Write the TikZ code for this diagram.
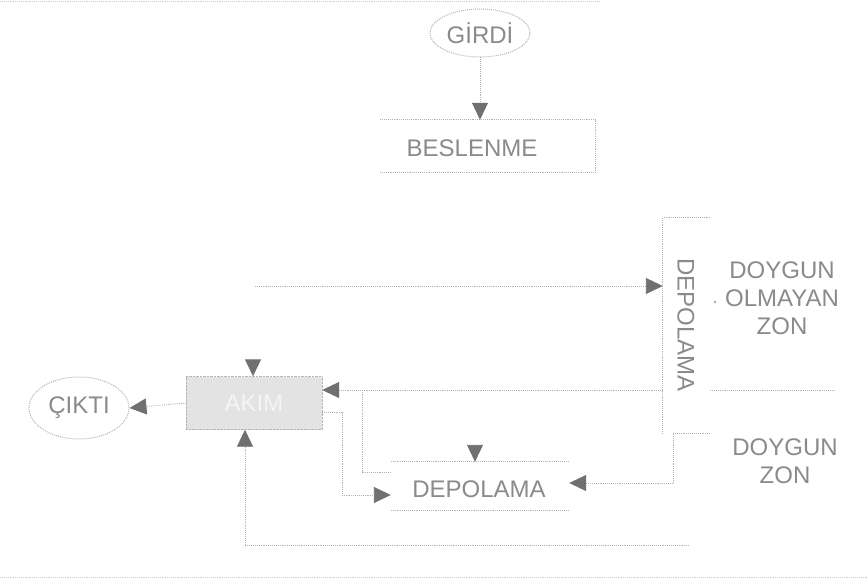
\documentclass[tikz,border=0pt]{standalone}
\usepackage{fontspec}
\setmainfont{Liberation Sans}
\usetikzlibrary{arrows.meta,shapes.geometric}
\definecolor{txtgray}{HTML}{8A8A8A}
\definecolor{linegray}{HTML}{B4B4B4}
\definecolor{headgray}{HTML}{707070}
\tikzset{
  lbl/.style={text=txtgray,font=\fontsize{24}{28}\selectfont,inner sep=0pt},
  flow/.style={draw=linegray,densely dotted,line width=0.9pt,
     -{Triangle[length=17pt,width=16pt,color=headgray]}},
  plain/.style={draw=linegray,densely dotted,line width=0.9pt},
  oval/.style={ellipse,draw=linegray,densely dotted,line width=1pt},
}
\begin{document}
\begin{tikzpicture}[x=1pt,y=-1pt]
\useasboundingbox (0,0) rectangle (868,580);
% scan borders
\draw[plain,draw=linegray!70] (0,1) -- (600,1);
\draw[plain,draw=linegray!70] (0,577) -- (868,577);

% nodes
\node[oval,lbl,minimum width=100pt,minimum height=48pt] (girdi) at (480,33) {GİRDİ};
\node[minimum width=215pt,minimum height=52pt,inner sep=0pt] (besl) at (488,146) {};
\node[lbl] at (472,148) {BESLENME};
\node[draw=linegray,densely dotted,fill=gray!22,minimum width=136pt,minimum height=53pt,inner sep=0pt,
      text=gray!8,font=\fontsize{24}{28}\selectfont] (akim) at (254,403) {AKIM};
\node[oval,lbl,minimum width=100pt,minimum height=62pt] (cikti) at (79,408) {ÇIKTI};
\node[minimum width=178pt,minimum height=48pt,inner sep=0pt] (dep2) at (480,486) {};
\node[lbl] at (479,489) {DEPOLAMA};
\node[minimum width=47pt,minimum height=215pt,inner sep=0pt] (depv) at (686.5,325.5) {};
\node[lbl,rotate=-90] at (686,325) {DEPOLAMA};
\node[lbl,align=center] (dolm) at (782,298) {DOYGUN\\OLMAYAN\\ZON};
\node[lbl,align=center] (doy) at (785,461) {DOYGUN\\ZON};
\fill[txtgray] (715,302) circle (1.2pt);

% box borders
\draw[plain] (besl.north west) -- (besl.north east) -- (besl.south east) -- (besl.south west);
\draw[plain] (dep2.north west) -- (dep2.north east);
\draw[plain] (dep2.south west) -- (dep2.south east);
\draw[plain] (depv.north east) -- (depv.north west) -- (depv.south west);

% coordinates
\coordinate (evap) at (255,286);
\coordinate (bndR) at (835,390);
\coordinate (rainA) at (253,359.5);
\coordinate (rainD) at (475,445);
\coordinate (gwR) at (689,545);
\coordinate (satT) at (710,433);

% connectors
\draw[flow] (girdi.south) -- (girdi.south |- besl.north);
\draw[flow] (akim.west) -- (cikti.east);
\draw[flow] (evap) -- (depv.west |- evap);
\draw[flow] (depv.west |- bndR) -- (akim.east |- bndR);
\draw[plain] (depv.east |- bndR) -- (bndR);
\draw[plain] ([yshift=14pt]dep2.west) -| (362,390);
\draw[flow] ([yshift=-9pt]akim.east) -| (342,495) -- ([yshift=-9pt]dep2.west);
\draw[flow] (rainD) -- (rainD |- dep2.north);
\draw[flow] (rainA) -- (rainA |- akim.north);
\draw[flow] (gwR) -| ([xshift=-9pt]akim.south);
\draw[flow] (satT) -| (673,483) -- (dep2.east |- 0,483);
\end{tikzpicture}
\end{document}
